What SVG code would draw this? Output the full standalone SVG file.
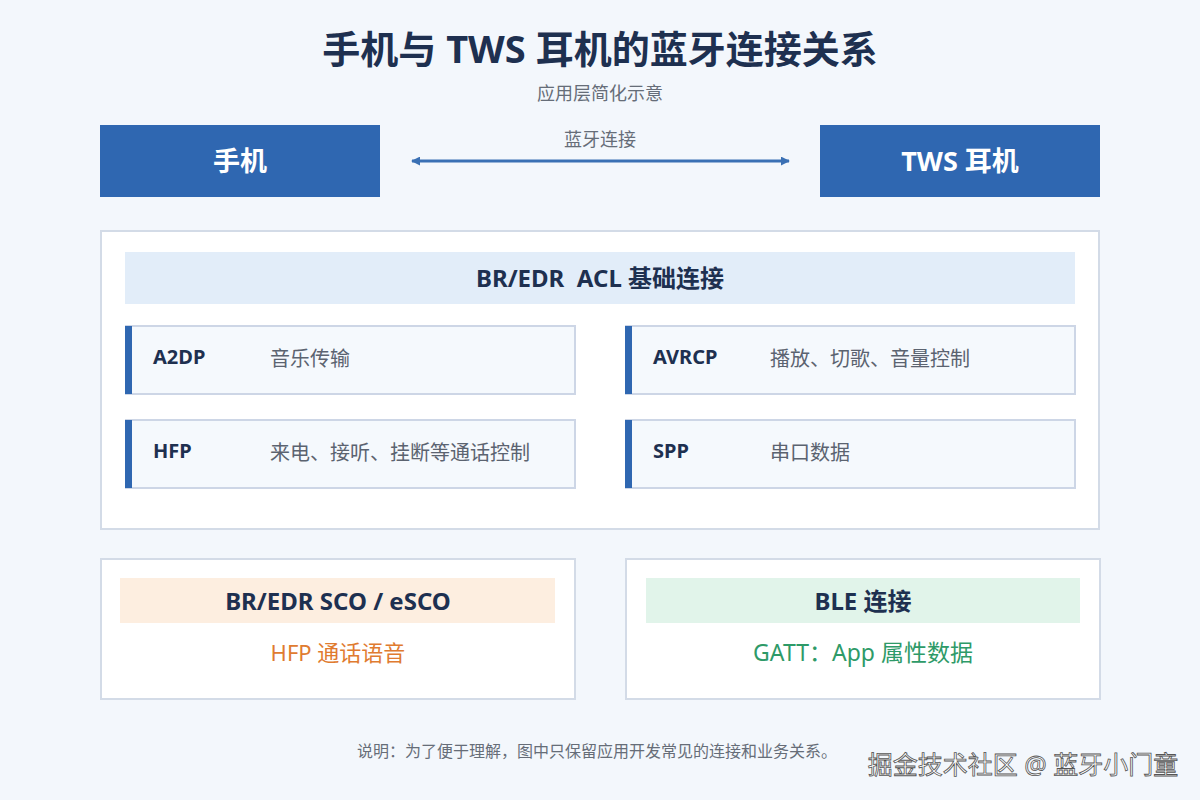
<svg xmlns="http://www.w3.org/2000/svg" width="1200" height="800" viewBox="0 0 1200 800">
<defs>
<marker id="ah" viewBox="0 0 10 10" refX="9" refY="5" markerWidth="3" markerHeight="3" orient="auto-start-reverse"><path d="M0,0 L10,5 L0,10 z" fill="#3a70b4"/></marker>
<style>
text{font-family:"Noto Sans","Noto Sans CJK SC",sans-serif;}
.t{font-size:38px;font-weight:700;fill:#1e3050;text-anchor:middle}
.sub{font-size:18px;fill:#666d78;text-anchor:middle}
.dev rect{fill:#2f67b1}
.dev text{font-size:27px;font-weight:700;fill:#fff;text-anchor:middle}
.panel{fill:#fff;stroke:#d3dbe7;stroke-width:2}
.hd{font-size:24px;font-weight:700;fill:#1e3050;text-anchor:middle}
.card{fill:#f5f9fd;stroke:#cdd6e6;stroke-width:2}
.bar{fill:#2f67b1}
.pn{font-size:20px;font-weight:700;fill:#1e3050}
.pd{font-size:20px;fill:#5b6370}
.note{font-size:16px;fill:#666d78;text-anchor:middle}
</style>
</defs>
<rect width="1200" height="800" fill="#f3f7fc"/>
<text class="t" x="600" y="63">手机与 TWS 耳机的蓝牙连接关系</text>
<text class="sub" x="600" y="100">应用层简化示意</text>
<g id="phone" class="dev"><rect x="100" y="125" width="280" height="72"/><text x="240" y="171">手机</text></g>
<g id="tws" class="dev"><rect x="820" y="125" width="280" height="72"/><text x="960" y="171">TWS 耳机</text></g>
<g id="connectors">
<line x1="412" y1="161" x2="789" y2="161" stroke="#3a70b4" stroke-width="3" marker-start="url(#ah)" marker-end="url(#ah)"/>
<text class="sub" x="600" y="146">蓝牙连接</text>
</g>
<g id="acl">
<rect class="panel" x="101" y="231" width="998" height="298"/>
<rect x="125" y="252" width="950" height="52" fill="#e2edf9"/>
<text class="hd" x="600" y="287" xml:space="preserve">BR/EDR  ACL 基础连接</text>
</g>
<g id="a2dp"><rect class="card" x="126" y="326" width="449" height="68"/><rect class="bar" x="125" y="326" width="7" height="68"/><text class="pn" x="153" y="364">A2DP</text><text class="pd" x="270" y="366">音乐传输</text></g>
<g id="avrcp"><rect class="card" x="626" y="326" width="449" height="68"/><rect class="bar" x="625" y="326" width="7" height="68"/><text class="pn" x="653" y="364">AVRCP</text><text class="pd" x="770" y="366">播放、切歌、音量控制</text></g>
<g id="hfp"><rect class="card" x="126" y="420" width="449" height="68"/><rect class="bar" x="125" y="420" width="7" height="68"/><text class="pn" x="153" y="458">HFP</text><text class="pd" x="270" y="460">来电、接听、挂断等通话控制</text></g>
<g id="spp"><rect class="card" x="626" y="420" width="449" height="68"/><rect class="bar" x="625" y="420" width="7" height="68"/><text class="pn" x="653" y="458">SPP</text><text class="pd" x="770" y="460">串口数据</text></g>
<g id="sco">
<rect class="panel" x="101" y="559" width="474" height="140"/>
<rect x="120" y="578" width="435" height="45" fill="#fdeee0"/>
<text class="hd" x="338" y="610">BR/EDR SCO / eSCO</text>
<text x="338" y="661" font-size="22" fill="#e07b30" text-anchor="middle">HFP 通话语音</text>
</g>
<g id="ble">
<rect class="panel" x="626" y="559" width="474" height="140"/>
<rect x="646" y="578" width="434" height="45" fill="#e1f4ea"/>
<text class="hd" x="863" y="610">BLE 连接</text>
<text x="863" y="661" font-size="23" fill="#2e9a68" text-anchor="middle">GATT：App 属性数据</text>
</g>
<text class="note" x="597" y="757">说明：为了便于理解，图中只保留应用开发常见的连接和业务关系。</text>
<text x="1023" y="774" font-size="25" fill="#ffffff" stroke="#555" stroke-width="0.8" text-anchor="middle">掘金技术社区 @ 蓝牙小门童</text>
</svg>
